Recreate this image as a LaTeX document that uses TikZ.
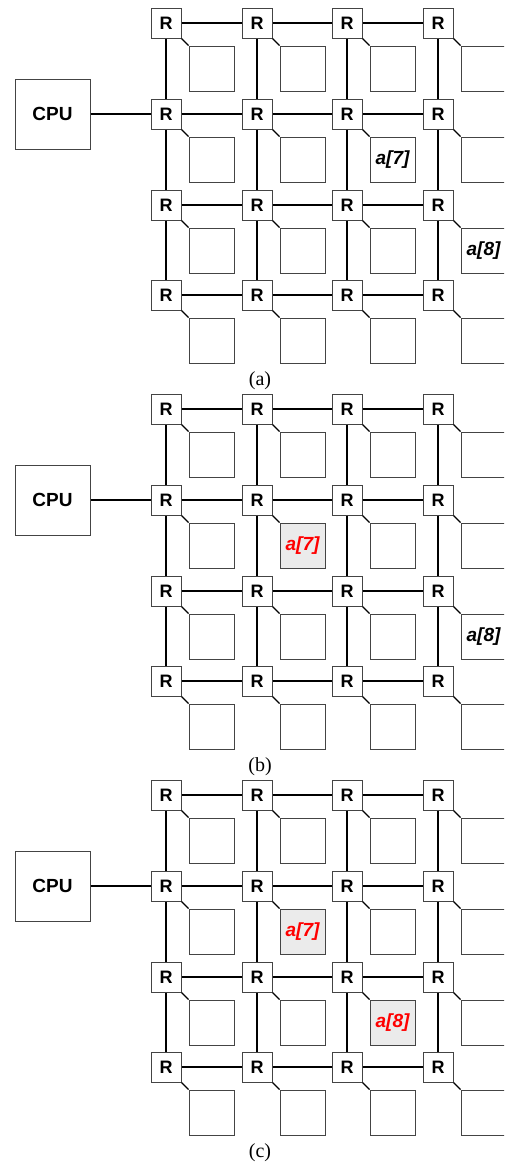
\documentclass[tikz,border=0pt]{standalone}
\usepackage{fontspec}
\setmainfont{Liberation Serif}
\setsansfont{Liberation Sans}
\definecolor{boxgray}{HTML}{EBEBEB}
\definecolor{edge}{HTML}{444444}
\tikzset{
  router/.style={draw=edge, line width=1pt, fill=white, minimum size=30pt, inner sep=0pt,
    font=\sffamily\bfseries\fontsize{18}{18}\selectfont},
  mem/.style={draw=edge, line width=1pt, fill=white, minimum size=45pt, inner sep=0pt,
    font=\sffamily\bfseries\itshape\fontsize{19}{19}\selectfont},
  hot/.style={fill=boxgray, text=red},
  cpubox/.style={draw=edge, line width=1pt, fill=white, minimum width=75pt, minimum height=70pt,
    inner sep=0pt, font=\sffamily\bfseries\fontsize{19}{19}\selectfont},
  link/.style={line width=2pt, black},
  tap/.style={line width=1.1pt, black},
  figcap/.style={font=\fontsize{20}{20}\selectfont, inner sep=0pt},
  mstyle111/.style={hot},
  mstyle211/.style={hot},
  mstyle222/.style={hot},
}
\expandafter\def\csname mtext021\endcsname{a[7]}
\expandafter\def\csname mtext032\endcsname{a[8]}
\expandafter\def\csname mtext111\endcsname{a[7]}
\expandafter\def\csname mtext132\endcsname{a[8]}
\expandafter\def\csname mtext211\endcsname{a[7]}
\expandafter\def\csname mtext222\endcsname{a[8]}
\begin{document}
\begin{tikzpicture}[x=1pt,y=-1pt]
\clip (0,0) rectangle (504,1167);
\fill[white] (0,0) rectangle (504,1167);
\foreach \p in {0,1,2}{
  \foreach \i/\x in {0/166,1/257,2/347,3/438}{
    \foreach \j/\y in {0/23,1/114,2/205,3/295}{
      \node[router] (R\p\i\j) at (\x,{\y+386*\p}) {R};
      \node[mem, mstyle\p\i\j/.try] (M\p\i\j) at ({\x+45.5},{\y+45.5+386*\p}) {\csname mtext\p\i\j\endcsname};
      \draw[tap] (R\p\i\j.south east) -- (M\p\i\j.north west);
    }
  }
  \foreach \j in {0,1,2,3}{
    \foreach \i [count=\n from 1] in {0,1,2}{
      \draw[link] (R\p\i\j) -- (R\p\n\j);
      \draw[link] (R\p\j\i) -- (R\p\j\n);
    }
  }
  \node[cpubox] (CPU\p) at (52.5,{114+386*\p}) {CPU};
  \draw[link] (CPU\p) -- (R\p01);
}
\node[figcap] (capa) at (260,380.5) {(a)};
\node[figcap] (capb) at (260,766.5) {(b)};
\node[figcap] (capc) at (260,1152.5) {(c)};
\end{tikzpicture}
\end{document}
